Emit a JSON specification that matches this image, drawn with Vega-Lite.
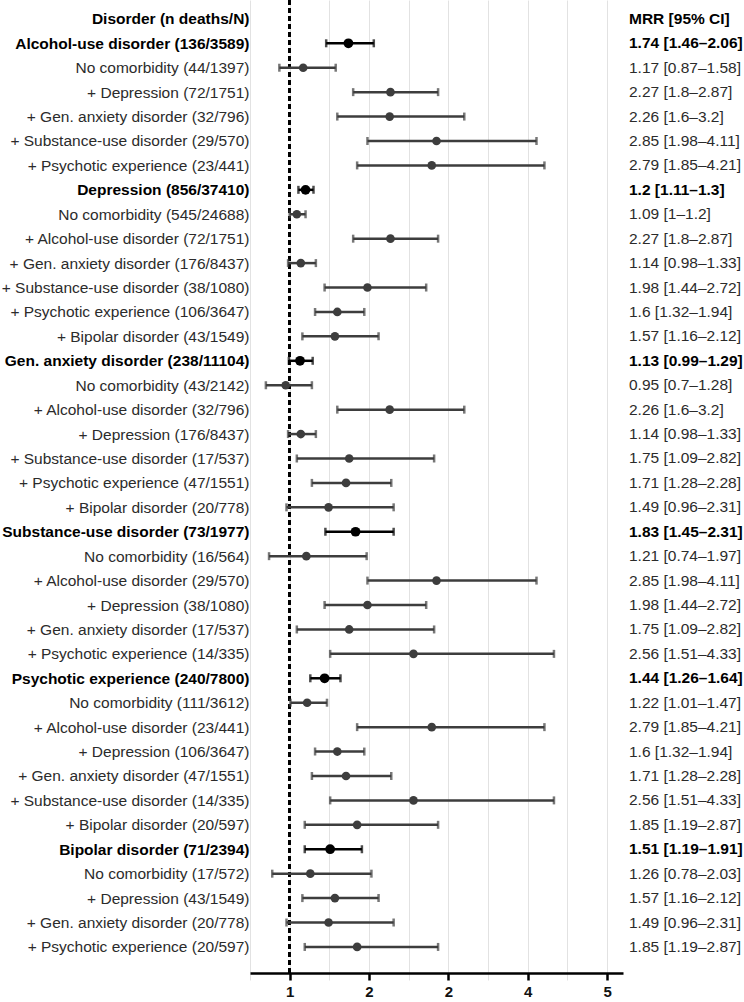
{
  "$schema": "https://vega.github.io/schema/vega-lite/v6.json",
  "autosize": "none",
  "width": 373,
  "height": 973,
  "padding": {"left": 250, "top": 0, "right": 121, "bottom": 29},
  "background": "white",
  "config": {
    "view": {"stroke": null},
    "font": "Liberation Sans"
  },
  "data": {
    "values": [
      {"row": 0, "label": "Disorder (n deaths/N)", "level": "header", "head": "MRR [95% CI]", "mrr": null, "lo": null, "hi": null},
      {"row": 1, "label": "Alcohol-use disorder (136/3589)", "level": "group", "mrr": 1.74, "lo": 1.46, "hi": 2.06},
      {"row": 2, "label": "No comorbidity (44/1397)", "level": "sub", "mrr": 1.17, "lo": 0.87, "hi": 1.58},
      {"row": 3, "label": "+ Depression (72/1751)", "level": "sub", "mrr": 2.27, "lo": 1.8, "hi": 2.87},
      {"row": 4, "label": "+ Gen. anxiety disorder (32/796)", "level": "sub", "mrr": 2.26, "lo": 1.6, "hi": 3.2},
      {"row": 5, "label": "+ Substance-use disorder (29/570)", "level": "sub", "mrr": 2.85, "lo": 1.98, "hi": 4.11},
      {"row": 6, "label": "+ Psychotic experience (23/441)", "level": "sub", "mrr": 2.79, "lo": 1.85, "hi": 4.21},
      {"row": 7, "label": "Depression (856/37410)", "level": "group", "mrr": 1.2, "lo": 1.11, "hi": 1.3},
      {"row": 8, "label": "No comorbidity (545/24688)", "level": "sub", "mrr": 1.09, "lo": 1, "hi": 1.2},
      {"row": 9, "label": "+ Alcohol-use disorder (72/1751)", "level": "sub", "mrr": 2.27, "lo": 1.8, "hi": 2.87},
      {"row": 10, "label": "+ Gen. anxiety disorder (176/8437)", "level": "sub", "mrr": 1.14, "lo": 0.98, "hi": 1.33},
      {"row": 11, "label": "+ Substance-use disorder (38/1080)", "level": "sub", "mrr": 1.98, "lo": 1.44, "hi": 2.72},
      {"row": 12, "label": "+ Psychotic experience (106/3647)", "level": "sub", "mrr": 1.6, "lo": 1.32, "hi": 1.94},
      {"row": 13, "label": "+ Bipolar disorder (43/1549)", "level": "sub", "mrr": 1.57, "lo": 1.16, "hi": 2.12},
      {"row": 14, "label": "Gen. anxiety disorder (238/11104)", "level": "group", "mrr": 1.13, "lo": 0.99, "hi": 1.29},
      {"row": 15, "label": "No comorbidity (43/2142)", "level": "sub", "mrr": 0.95, "lo": 0.7, "hi": 1.28},
      {"row": 16, "label": "+ Alcohol-use disorder (32/796)", "level": "sub", "mrr": 2.26, "lo": 1.6, "hi": 3.2},
      {"row": 17, "label": "+ Depression (176/8437)", "level": "sub", "mrr": 1.14, "lo": 0.98, "hi": 1.33},
      {"row": 18, "label": "+ Substance-use disorder (17/537)", "level": "sub", "mrr": 1.75, "lo": 1.09, "hi": 2.82},
      {"row": 19, "label": "+ Psychotic experience (47/1551)", "level": "sub", "mrr": 1.71, "lo": 1.28, "hi": 2.28},
      {"row": 20, "label": "+ Bipolar disorder (20/778)", "level": "sub", "mrr": 1.49, "lo": 0.96, "hi": 2.31},
      {"row": 21, "label": "Substance-use disorder (73/1977)", "level": "group", "mrr": 1.83, "lo": 1.45, "hi": 2.31},
      {"row": 22, "label": "No comorbidity (16/564)", "level": "sub", "mrr": 1.21, "lo": 0.74, "hi": 1.97},
      {"row": 23, "label": "+ Alcohol-use disorder (29/570)", "level": "sub", "mrr": 2.85, "lo": 1.98, "hi": 4.11},
      {"row": 24, "label": "+ Depression (38/1080)", "level": "sub", "mrr": 1.98, "lo": 1.44, "hi": 2.72},
      {"row": 25, "label": "+ Gen. anxiety disorder (17/537)", "level": "sub", "mrr": 1.75, "lo": 1.09, "hi": 2.82},
      {"row": 26, "label": "+ Psychotic experience (14/335)", "level": "sub", "mrr": 2.56, "lo": 1.51, "hi": 4.33},
      {"row": 27, "label": "Psychotic experience (240/7800)", "level": "group", "mrr": 1.44, "lo": 1.26, "hi": 1.64},
      {"row": 28, "label": "No comorbidity (111/3612)", "level": "sub", "mrr": 1.22, "lo": 1.01, "hi": 1.47},
      {"row": 29, "label": "+ Alcohol-use disorder (23/441)", "level": "sub", "mrr": 2.79, "lo": 1.85, "hi": 4.21},
      {"row": 30, "label": "+ Depression (106/3647)", "level": "sub", "mrr": 1.6, "lo": 1.32, "hi": 1.94},
      {"row": 31, "label": "+ Gen. anxiety disorder (47/1551)", "level": "sub", "mrr": 1.71, "lo": 1.28, "hi": 2.28},
      {"row": 32, "label": "+ Substance-use disorder (14/335)", "level": "sub", "mrr": 2.56, "lo": 1.51, "hi": 4.33},
      {"row": 33, "label": "+ Bipolar disorder (20/597)", "level": "sub", "mrr": 1.85, "lo": 1.19, "hi": 2.87},
      {"row": 34, "label": "Bipolar disorder (71/2394)", "level": "group", "mrr": 1.51, "lo": 1.19, "hi": 1.91},
      {"row": 35, "label": "No comorbidity (17/572)", "level": "sub", "mrr": 1.26, "lo": 0.78, "hi": 2.03},
      {"row": 36, "label": "+ Depression (43/1549)", "level": "sub", "mrr": 1.57, "lo": 1.16, "hi": 2.12},
      {"row": 37, "label": "+ Gen. anxiety disorder (20/778)", "level": "sub", "mrr": 1.49, "lo": 0.96, "hi": 2.31},
      {"row": 38, "label": "+ Psychotic experience (20/597)", "level": "sub", "mrr": 1.85, "lo": 1.19, "hi": 2.87}
    ]
  },
  "transform": [
    {"calculate": "datum.mrr == null ? datum.head : datum.mrr + ' [' + datum.lo + '\u2013' + datum.hi + ']'", "as": "ciText"}
  ],
  "layer": [
    {
      "mark": {
        "type": "text",
        "align": "left",
        "baseline": "middle",
        "dx": 6,
        "fontSize": 15.5,
        "fontWeight": {"expr": "datum.level != 'sub' ? 'bold' : 'normal'"}
      },
      "encoding": {
        "x": {
          "datum": 5.2,
          "type": "quantitative",
          "title": null,
          "scale": {"domain": [0.5, 5.2], "nice": false, "zero": false},
          "axis": {
            "values": [0.5, 1, 1.5, 2, 2.5, 3, 3.5, 4, 4.5, 5],
            "labelExpr": "datum.value == 3 ? '2' : (datum.value % 1 == 0 ? format(datum.value, 'd') : '')",
            "labelFontSize": 15,
            "labelFontWeight": "bold",
            "labelColor": "#111111",
            "labelPadding": 4,
            "grid": true,
            "gridColor": "#e2e2e2",
            "gridWidth": 1,
            "domainColor": "#000000",
            "domainWidth": 2.5,
            "tickSize": 7,
            "tickWidth": {"condition": {"test": "datum.value % 1 == 0", "value": 2.5}, "value": 1},
            "tickColor": {"condition": {"test": "datum.value % 1 == 0", "value": "#000000"}, "value": "#e2e2e2"}
          }
        },
        "y": {
          "field": "label",
          "type": "nominal",
          "sort": {"field": "row", "op": "min"},
          "title": null,
          "scale": {"type": "point", "padding": 0.92, "align": 0.42},
          "axis": {
            "domain": false,
            "ticks": false,
            "grid": false,
            "labelPadding": 1,
            "labelLimit": 400,
            "labelFontSize": 15.5,
            "labelFontWeight": {"condition": {"test": "indexof(datum.value, '+ ') !== 0 && indexof(datum.value, 'No comorbidity') !== 0", "value": "bold"}, "value": "normal"},
            "labelColor": {"condition": {"test": "indexof(datum.value, '+ ') !== 0 && indexof(datum.value, 'No comorbidity') !== 0", "value": "#000000"}, "value": "#2b2b2b"}
          }
        },
        "text": {"field": "ciText"},
        "color": {"condition": {"test": "datum.level != 'sub'", "value": "#000000"}, "value": "#2b2b2b"}
      }
    },
    {
      "mark": {"type": "rule", "strokeDash": [5, 3], "strokeWidth": 2.5, "color": "#000000"},
      "encoding": {
        "x": {"datum": 1, "type": "quantitative", "title": null}
      }
    },
    {
      "mark": {"type": "rule", "strokeWidth": 2.5},
      "encoding": {
        "x": {"field": "lo", "type": "quantitative", "title": null},
        "x2": {"field": "hi"},
        "y": {"field": "label", "type": "nominal", "sort": {"field": "row", "op": "min"}, "title": null},
        "color": {"field": "level", "type": "nominal", "scale": {"domain": ["group", "sub"], "range": ["#000000", "#3d3d3d"]}, "legend": null}
      }
    },
    {
      "mark": {"type": "tick", "size": 8, "thickness": 2.5, "orient": "vertical"},
      "encoding": {
        "x": {"field": "lo", "type": "quantitative", "title": null},
        "y": {"field": "label", "type": "nominal", "sort": {"field": "row", "op": "min"}, "title": null},
        "color": {"field": "level", "type": "nominal", "legend": null}
      }
    },
    {
      "mark": {"type": "tick", "size": 8, "thickness": 2.5, "orient": "vertical"},
      "encoding": {
        "x": {"field": "hi", "type": "quantitative", "title": null},
        "y": {"field": "label", "type": "nominal", "sort": {"field": "row", "op": "min"}, "title": null},
        "color": {"field": "level", "type": "nominal", "legend": null}
      }
    },
    {
      "mark": {"type": "circle", "opacity": 1},
      "encoding": {
        "x": {"field": "mrr", "type": "quantitative", "title": null},
        "y": {"field": "label", "type": "nominal", "sort": {"field": "row", "op": "min"}, "title": null},
        "color": {"field": "level", "type": "nominal", "legend": null},
        "size": {"field": "level", "type": "nominal", "scale": {"domain": ["group", "sub"], "range": [95, 75]}, "legend": null}
      }
    }
  ]
}
